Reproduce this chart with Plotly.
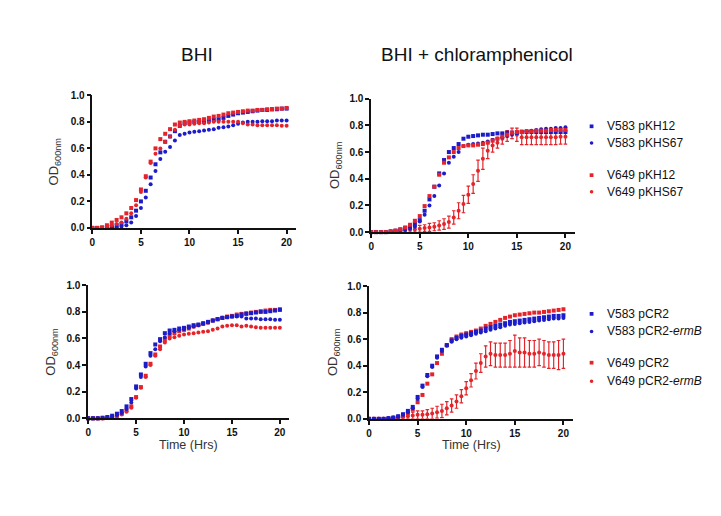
import plotly.graph_objects as go

# ---------------- data ----------------
time_hrs = [0, 0.5, 1, 1.5, 2, 2.5, 3, 3.5, 4, 4.5, 5, 5.5, 6, 6.5, 7, 7.5, 8, 8.5, 9, 9.5,
            10, 10.5, 11, 11.5, 12, 12.5, 13, 13.5, 14, 14.5, 15, 15.5, 16, 16.5, 17, 17.5,
            18, 18.5, 19, 19.5, 20]

# Top-left: BHI, pKH12 / pKHS67
tl_v583_pkh12 = [0, 0, 0, 0.005, 0.01, 0.02, 0.03, 0.05, 0.08, 0.13, 0.2, 0.28, 0.38, 0.48, 0.57, 0.65,
                 0.69, 0.73, 0.77, 0.79, 0.795, 0.80, 0.80, 0.805, 0.81, 0.815, 0.82, 0.83, 0.845, 0.855,
                 0.865, 0.87, 0.875, 0.88, 0.885, 0.89, 0.89, 0.895, 0.895, 0.9, 0.9]
tl_v583_pkhs67 = [0, 0, 0, 0, 0.005, 0.005, 0.01, 0.02, 0.04, 0.09, 0.15, 0.23, 0.33, 0.43, 0.52, 0.575,
                  0.61, 0.66, 0.70, 0.71, 0.72, 0.725, 0.73, 0.735, 0.74, 0.745, 0.755, 0.76, 0.765, 0.775,
                  0.785, 0.795, 0.80, 0.80, 0.80, 0.805, 0.805, 0.805, 0.81, 0.81, 0.81]
tl_v649_pkh12 = [0, 0, 0.005, 0.02, 0.04, 0.06, 0.08, 0.11, 0.15, 0.21, 0.29, 0.39, 0.5, 0.6, 0.67, 0.71,
                 0.745, 0.78, 0.795, 0.80, 0.805, 0.81, 0.815, 0.82, 0.83, 0.84, 0.845, 0.855, 0.865, 0.87,
                 0.875, 0.88, 0.885, 0.885, 0.89, 0.89, 0.895, 0.895, 0.9, 0.9, 0.905]
tl_v649_pkhs67 = [0, 0, 0, 0.01, 0.02, 0.03, 0.04, 0.07, 0.11, 0.17, 0.27, 0.38, 0.49, 0.56, 0.60, 0.65,
                  0.69, 0.74, 0.77, 0.78, 0.78, 0.785, 0.79, 0.79, 0.795, 0.80, 0.80, 0.80, 0.80, 0.80,
                  0.80, 0.79, 0.78, 0.78, 0.775, 0.775, 0.775, 0.775, 0.775, 0.77, 0.77]

# Top-right: BHI + chloramphenicol, pKH12 / pKHS67
tr_v583_pkh12 = [0, 0, 0, 0, 0.005, 0.01, 0.02, 0.03, 0.045, 0.06, 0.09, 0.16, 0.245, 0.34, 0.44, 0.54,
                 0.60, 0.63, 0.66, 0.70, 0.715, 0.72, 0.725, 0.73, 0.73, 0.735, 0.74, 0.74, 0.745, 0.745,
                 0.745, 0.75, 0.75, 0.75, 0.75, 0.75, 0.75, 0.75, 0.75, 0.75, 0.75]
tr_v583_pkhs67 = [0, 0, 0, 0, 0, 0.005, 0.01, 0.015, 0.025, 0.04, 0.08, 0.13, 0.2, 0.27, 0.35, 0.44,
                  0.52, 0.565, 0.60, 0.645, 0.655, 0.66, 0.665, 0.67, 0.68, 0.69, 0.70, 0.71, 0.72, 0.73,
                  0.74, 0.75, 0.755, 0.76, 0.765, 0.77, 0.775, 0.775, 0.78, 0.78, 0.785]
tr_v649_pkh12 = [0, 0, 0, 0, 0.005, 0.01, 0.02, 0.035, 0.055, 0.085, 0.12, 0.195, 0.27, 0.34, 0.43, 0.52,
                 0.56, 0.60, 0.63, 0.645, 0.65, 0.65, 0.655, 0.66, 0.67, 0.685, 0.70, 0.715, 0.73, 0.745,
                 0.75, 0.75, 0.755, 0.755, 0.76, 0.76, 0.76, 0.765, 0.765, 0.765, 0.765]
tr_v649_pkhs67 = [0, 0, 0, 0, 0.005, 0.01, 0.01, 0.015, 0.02, 0.02, 0.025, 0.03, 0.035, 0.04, 0.05, 0.06,
                  0.075, 0.11, 0.16, 0.21, 0.28, 0.36, 0.46, 0.55, 0.61, 0.65, 0.67, 0.70, 0.72, 0.74,
                  0.73, 0.71, 0.71, 0.71, 0.71, 0.71, 0.71, 0.71, 0.71, 0.715, 0.715]
tr_v649_pkhs67_err = [0, 0, 0, 0, 0.005, 0.01, 0.01, 0.015, 0.02, 0.02, 0.025, 0.025, 0.03, 0.03, 0.035, 0.04,
                      0.045, 0.05, 0.06, 0.065, 0.065, 0.07, 0.08, 0.08, 0.06, 0.05, 0.04, 0.04, 0.04, 0.04,
                      0.05, 0.055, 0.055, 0.055, 0.055, 0.055, 0.055, 0.055, 0.055, 0.055, 0.055]

# Bottom-left: BHI, pCR2 / pCR2-ermB
bl_v583_pcr2 = [0, 0, 0, 0.005, 0.01, 0.02, 0.035, 0.055, 0.09, 0.145, 0.24, 0.33, 0.41, 0.49, 0.555, 0.595,
                0.64, 0.66, 0.665, 0.675, 0.68, 0.69, 0.70, 0.705, 0.715, 0.725, 0.735, 0.745, 0.755, 0.76,
                0.765, 0.77, 0.78, 0.785, 0.79, 0.795, 0.80, 0.80, 0.805, 0.81, 0.815]
bl_v583_pcr2_ermb = [0, 0, 0, 0, 0.005, 0.01, 0.025, 0.04, 0.07, 0.12, 0.225, 0.31, 0.39, 0.47, 0.52, 0.58,
                     0.61, 0.64, 0.655, 0.665, 0.67, 0.68, 0.69, 0.70, 0.71, 0.72, 0.735, 0.745, 0.755, 0.76,
                     0.765, 0.765, 0.765, 0.75, 0.75, 0.75, 0.745, 0.745, 0.745, 0.74, 0.74]
bl_v649_pcr2 = [0, 0, 0, 0, 0.005, 0.01, 0.02, 0.035, 0.06, 0.09, 0.16, 0.235, 0.32, 0.41, 0.48, 0.54,
                0.59, 0.62, 0.64, 0.655, 0.665, 0.675, 0.69, 0.70, 0.71, 0.72, 0.735, 0.745, 0.755, 0.765,
                0.77, 0.78, 0.785, 0.79, 0.795, 0.80, 0.805, 0.81, 0.815, 0.815, 0.82]
bl_v649_pcr2_ermb = [0, 0, 0, 0, 0.005, 0.01, 0.015, 0.03, 0.05, 0.08, 0.155, 0.23, 0.31, 0.40, 0.47, 0.52,
                     0.57, 0.60, 0.61, 0.62, 0.63, 0.635, 0.64, 0.645, 0.65, 0.655, 0.665, 0.675, 0.69, 0.695,
                     0.70, 0.70, 0.69, 0.695, 0.69, 0.685, 0.68, 0.68, 0.68, 0.68, 0.68]

# Bottom-right: BHI + chloramphenicol, pCR2 / pCR2-ermB
br_v583_pcr2 = [0, 0, 0, 0, 0.005, 0.01, 0.02, 0.035, 0.06, 0.09, 0.165, 0.25, 0.33, 0.40, 0.47, 0.52,
                0.555, 0.59, 0.61, 0.625, 0.635, 0.645, 0.655, 0.665, 0.68, 0.69, 0.70, 0.71, 0.72, 0.73,
                0.735, 0.74, 0.745, 0.75, 0.755, 0.76, 0.765, 0.77, 0.775, 0.775, 0.78]
br_v583_pcr2_ermb = [0, 0, 0, 0, 0.005, 0.01, 0.015, 0.03, 0.05, 0.08, 0.15, 0.24, 0.32, 0.39, 0.46, 0.51,
                     0.55, 0.58, 0.60, 0.61, 0.62, 0.63, 0.64, 0.65, 0.66, 0.67, 0.68, 0.69, 0.70, 0.71,
                     0.715, 0.72, 0.725, 0.73, 0.735, 0.74, 0.745, 0.75, 0.755, 0.755, 0.76]
br_v649_pcr2 = [0, 0, 0, 0, 0, 0.005, 0.01, 0.02, 0.04, 0.07, 0.125, 0.18, 0.265, 0.335, 0.42, 0.49,
                0.555, 0.60, 0.62, 0.635, 0.645, 0.655, 0.665, 0.68, 0.70, 0.715, 0.73, 0.745, 0.76, 0.77,
                0.78, 0.785, 0.79, 0.795, 0.80, 0.80, 0.805, 0.81, 0.815, 0.82, 0.825]
br_v649_pcr2_ermb = [0, 0, 0, 0, 0.005, 0.005, 0.01, 0.015, 0.02, 0.025, 0.03, 0.03, 0.035, 0.04, 0.05, 0.06,
                     0.08, 0.10, 0.13, 0.17, 0.23, 0.29, 0.36, 0.42, 0.47, 0.49, 0.48, 0.48, 0.48, 0.49,
                     0.51, 0.50, 0.50, 0.49, 0.49, 0.50, 0.49, 0.48, 0.48, 0.48, 0.49]
br_v649_pcr2_ermb_err = [0, 0, 0, 0, 0.005, 0.005, 0.01, 0.015, 0.02, 0.025, 0.03, 0.03, 0.035, 0.04, 0.045, 0.05,
                         0.05, 0.05, 0.05, 0.05, 0.05, 0.05, 0.06, 0.07, 0.08, 0.09, 0.09, 0.09, 0.09, 0.10,
                         0.12, 0.11, 0.11, 0.10, 0.10, 0.10, 0.10, 0.10, 0.10, 0.11, 0.11]

panel_titles = ["BHI", "BHI + chloramphenicol"]
legend_top = ["V583 pKH12", "V583 pKHS67", "V649 pKH12", "V649 pKHS67"]
legend_bottom = ["V583 pCR2", "V583 pCR2-<i>ermB</i>", "V649 pCR2", "V649 pCR2-<i>ermB</i>"]
y_ticks = [0, 0.2, 0.4, 0.6, 0.8, 1.0]
y_ticklabels = ["0.0", "0.2", "0.4", "0.6", "0.8", "1.0"]
x_ticks = [0, 5, 10, 15, 20]

# ---------------- styling ----------------
BLUE = "#1c1cc8"
RED = "#e3252b"
FONT = "Liberation Sans, Arial, sans-serif"
W, H = 721, 516
MSIZE = 4


def px_x(p):
    return p / W


def px_y(p):
    return 1 - p / H


fig = go.Figure()


def add_series(ax, y, name, color, symbol, err=None):
    sx = "" if ax == 1 else str(ax)
    tr = go.Scatter(
        x=time_hrs, y=y, mode="markers", name=name,
        marker=dict(color=color, symbol=symbol, size=MSIZE if symbol == "square" else MSIZE,
                    line=dict(width=0)),
        xaxis="x" + sx, yaxis="y" + sx, cliponaxis=False, showlegend=False,
    )
    if err is not None:
        tr.error_y = dict(type="data", array=err, visible=True, color=color, thickness=1.2, width=1.8)
    fig.add_trace(tr)


# top-left
add_series(1, tl_v583_pkh12, legend_top[0], BLUE, "square")
add_series(1, tl_v583_pkhs67, legend_top[1], BLUE, "circle")
add_series(1, tl_v649_pkh12, legend_top[2], RED, "square")
add_series(1, tl_v649_pkhs67, legend_top[3], RED, "circle")
# top-right
add_series(2, tr_v649_pkhs67, legend_top[3], RED, "circle", err=tr_v649_pkhs67_err)
add_series(2, tr_v583_pkh12, legend_top[0], BLUE, "square")
add_series(2, tr_v583_pkhs67, legend_top[1], BLUE, "circle")
add_series(2, tr_v649_pkh12, legend_top[2], RED, "square")
# bottom-left
add_series(3, bl_v649_pcr2, legend_bottom[2], RED, "square")
add_series(3, bl_v649_pcr2_ermb, legend_bottom[3], RED, "circle")
add_series(3, bl_v583_pcr2, legend_bottom[0], BLUE, "square")
add_series(3, bl_v583_pcr2_ermb, legend_bottom[1], BLUE, "circle")
# bottom-right
add_series(4, br_v649_pcr2_ermb, legend_bottom[3], RED, "circle", err=br_v649_pcr2_ermb_err)
add_series(4, br_v649_pcr2, legend_bottom[2], RED, "square")
add_series(4, br_v583_pcr2, legend_bottom[0], BLUE, "square")
add_series(4, br_v583_pcr2_ermb, legend_bottom[1], BLUE, "circle")

# axes: (x_left_px, x_right_px, y_top_px(1.0), y_bottom_px(0.0))
panels = {
    1: (81.7, 286.5, 83.3, 219.0),
    2: (361.7, 566.5, 86.7, 223.3),
    3: (77.5, 279.6, 277.7, 414.0),
    4: (359.5, 564.5, 278.5, 414.5),
}

tickfont = dict(family=FONT, size=10, color="#111111", weight="bold")
layout_axes = {}
for k, (xl, xr, yt, yb) in panels.items():
    sx = "" if k == 1 else str(k)
    layout_axes["xaxis" + sx] = dict(
        domain=[px_x(xl), px_x(xr)], range=[0, 21], anchor="y" + sx,
        tickvals=x_ticks, ticks="outside", ticklen=4, tickwidth=1.5, tickcolor="#111",
        showline=True, linecolor="#111", linewidth=1.6, showgrid=False, zeroline=False,
        tickfont=tickfont, fixedrange=True,
    )
    layout_axes["yaxis" + sx] = dict(
        domain=[px_y(yb), px_y(yt)], range=[0, 1.0], anchor="x" + sx,
        tickvals=y_ticks, ticktext=y_ticklabels, ticks="outside", ticklen=4, tickwidth=1.5,
        tickcolor="#111", showline=True, linecolor="#111", linewidth=1.6, showgrid=False,
        zeroline=False, tickfont=tickfont, fixedrange=True,
    )

annotations = []
shapes = []


def ann(text, xp, yp, size, color="#111", angle=0, xanchor="center"):
    annotations.append(dict(text=text, x=px_x(xp), y=px_y(yp), xref="paper", yref="paper",
                            xanchor=xanchor, yanchor="middle", showarrow=False, textangle=angle,
                            font=dict(family=FONT, size=size, color=color)))


# panel titles
ann(panel_titles[0], 187, 41, 19)
ann(panel_titles[1], 468, 41, 19)
# y-axis titles
for k, xc in [(1, 44), (2, 326), (3, 41), (4, 324)]:
    xl, xr, yt, yb = panels[k]
    ann("OD<sub>600nm</sub>", xc, (yt + yb) / 2, 13, color="#333", angle=-90)
# x-axis titles
for k in [3, 4]:
    xl, xr, yt, yb = panels[k]
    ann("Time (Hrs)", (xl + xr) / 2, yb + 27, 12.5, color="#333")

# legends (key + label)
legend_rows_top = [115, 132, 165, 182]
legend_rows_bottom = [307, 325, 357, 376]
key_colors = [BLUE, BLUE, RED, RED]
key_symbols = ["square", "circle", "square", "circle"]
for names, rows in [(legend_top, legend_rows_top), (legend_bottom, legend_rows_bottom)]:
    for nm, yy, col, sym in zip(names, rows, key_colors, key_symbols):
        r = 1.9 if sym == "square" else 1.8
        shapes.append(dict(type="rect" if sym == "square" else "circle", xref="paper", yref="paper",
                           x0=px_x(583 - r), x1=px_x(583 + r), y0=px_y(yy + r), y1=px_y(yy - r),
                           fillcolor=col, line=dict(width=0)))
        ann(nm, 596, yy, 12, xanchor="left")

fig.update_layout(
    width=W, height=H, margin=dict(l=0, r=0, t=0, b=0),
    paper_bgcolor="white", plot_bgcolor="white",
    annotations=annotations, shapes=shapes, showlegend=False,
    **layout_axes,
)

fig.write_html("out.html")
